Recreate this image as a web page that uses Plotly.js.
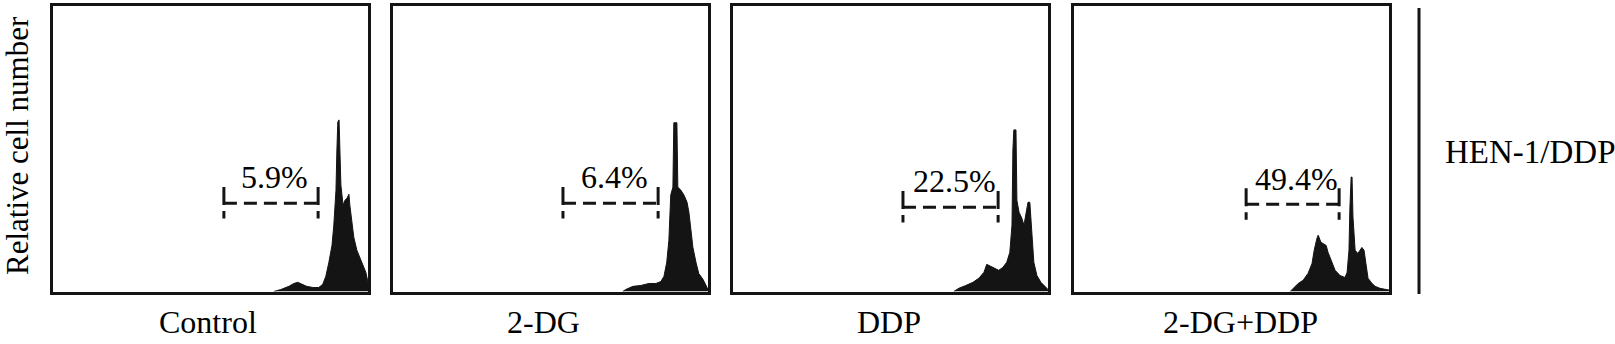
<!DOCTYPE html>
<html>
<head>
<meta charset="utf-8">
<script src="https://cdn.plot.ly/plotly-3.0.1.min.js"></script>
<style>
  html, body { margin: 0; padding: 0; background: #fff; }
  #chart { width: 1615px; height: 344px; }
</style>
</head>
<body>
<div id="chart"></div>
<script>
// ---------------- DATA ----------------
const panelLabels = ['Control', '2-DG', 'DDP', '2-DG+DDP'];
const gatePercents = ['5.9%', '6.4%', '22.5%', '49.4%'];
const gateLow = [555, 552, 552, 559];
const gateHigh = [861, 861, 861, 861];
const gateLevel = [30.9, 30.9, 29.5, 30.5];
const cellLine = 'HEN-1/DDP';
const yTitle = 'Relative cell number';

// Histograms: fluorescence channel (0-1023) vs relative cell number (0-100)
const controlCh = [717, 740, 766, 782, 795, 808, 824, 844, 863, 876, 886, 896, 906, 912, 919, 922, 925, 929, 932, 935, 942, 948, 955, 961, 964, 971, 977, 987, 997, 1007, 1016, 1023];
const controlCount = [0, 0.7, 1.8, 2.8, 3.2, 2.5, 1.8, 1.4, 1.4, 2.5, 5.3, 10.2, 16.1, 23.2, 35.4, 49.5, 59.3, 60.0, 49.5, 37.2, 30.2, 31.9, 32.6, 34.0, 30.2, 23.2, 18.9, 14.4, 11.6, 9.1, 6.7, 3.2];

const dg2Ch = [746, 756, 779, 805, 831, 854, 870, 880, 889, 896, 902, 909, 912, 922, 925, 935, 945, 955, 961, 968, 974, 984, 993, 1007, 1016, 1023];
const dg2Count = [0, 0.7, 1.8, 2.1, 2.8, 2.8, 3.5, 5.3, 10.2, 17.9, 33.7, 36.5, 59.0, 59.0, 36.5, 35.4, 33.7, 31.2, 27.7, 19.7, 15.4, 10.2, 6.3, 4.2, 2.1, 0.7];

const ddpCh = [717, 733, 756, 779, 798, 815, 824, 837, 850, 863, 876, 889, 899, 906, 909, 912, 919, 922, 929, 938, 945, 951, 958, 964, 971, 977, 987, 1000, 1013, 1023];
const ddpCount = [0, 1.1, 2.1, 3.2, 4.6, 6.7, 9.5, 8.8, 8.1, 7.4, 8.4, 10.2, 13.7, 23.2, 49.5, 56.5, 56.5, 31.9, 27.7, 25.6, 23.2, 26.7, 31.2, 31.2, 17.9, 10.2, 5.6, 3.2, 1.8, 0.7];

const comboCh = [702, 711, 728, 744, 760, 773, 780, 789, 793, 802, 809, 819, 825, 838, 848, 864, 880, 887, 893, 896, 900, 903, 906, 913, 922, 935, 942, 948, 955, 968, 978, 994, 1013, 1023];
const comboCount = [0, 1.1, 2.8, 3.9, 6.3, 9.8, 14.4, 18.6, 19.7, 17.2, 16.8, 16.1, 13.7, 10.2, 7.4, 5.6, 4.9, 6.7, 14.4, 29.1, 40.0, 40.0, 26.0, 14.4, 13.3, 15.4, 14.4, 9.8, 4.6, 2.8, 1.8, 1.1, 0.7, 0.5];

const histX = [controlCh, dg2Ch, ddpCh, comboCh];
const histY = [controlCount, dg2Count, ddpCount, comboCount];

// ---------------- LAYOUT ----------------
const W = 1615, H = 344;
const panelPx = [[53, 368], [393, 708], [733, 1048], [1074, 1389]];
const topPx = 5.5, bottomPx = 291.5;
const ink = '#141414';
const serif = 'Liberation Serif, Times New Roman, serif';

const traces = [];
const layout = {
  width: W, height: H,
  margin: {l: 0, r: 0, t: 0, b: 0},
  paper_bgcolor: '#fff', plot_bgcolor: '#fff',
  showlegend: false,
  annotations: [],
  shapes: []
};

const labelXOffsets = [-7, -23, -4, 31];   // category label horizontal offset (channels)

for (let i = 0; i < 4; i++) {
  const sfx = i === 0 ? '' : String(i + 1);
  const xa = 'x' + sfx, ya = 'y' + sfx;
  traces.push({
    type: 'scatter', mode: 'lines',
    x: histX[i], y: histY[i],
    xaxis: xa, yaxis: ya,
    fill: 'tozeroy', fillcolor: ink,
    line: {color: ink, width: 1},
    hoverinfo: 'skip'
  });
  const axCommon = {showticklabels: false, ticks: '', showgrid: false, zeroline: false,
    showline: true, mirror: true, linewidth: 3, linecolor: ink, fixedrange: true};
  layout['xaxis' + sfx] = Object.assign({}, axCommon, {
    domain: [panelPx[i][0] / W, panelPx[i][1] / W], range: [0, 1023], anchor: ya
  });
  layout['yaxis' + sfx] = Object.assign({}, axCommon, {
    domain: [(H - bottomPx) / H, (H - topPx) / H], range: [0, 100], anchor: xa
  });

  // gate bracket
  const lo = gateLow[i], hi = gateHigh[i], lv = gateLevel[i];
  const tickTop = lv + 5.6, tickBot = lv - 5.4;
  const vDash = {color: ink, width: 3, dash: '18px,6px'};
  const hDash = {color: ink, width: 3, dash: '13px,7px'};
  layout.shapes.push({type: 'line', xref: xa, yref: ya, x0: lo, x1: lo, y0: tickTop, y1: tickBot, line: vDash});
  layout.shapes.push({type: 'line', xref: xa, yref: ya, x0: hi, x1: hi, y0: tickTop, y1: tickBot, line: vDash});
  layout.shapes.push({type: 'line', xref: xa, yref: ya, x0: lo, x1: hi, y0: lv, y1: lv, line: hDash});

  // percentage label
  layout.annotations.push({
    xref: xa, yref: ya, x: (lo + hi) / 2 + 12, y: lv + 9,
    text: gatePercents[i], showarrow: false, xanchor: 'center', yanchor: 'middle',
    font: {family: serif, size: 32, color: '#000'}
  });

  // category label
  layout.annotations.push({
    xref: xa, yref: 'paper', x: 511 + labelXOffsets[i], y: (H - 322) / H,
    text: panelLabels[i], showarrow: false, xanchor: 'center', yanchor: 'middle',
    font: {family: serif, size: 32, color: '#000'}
  });
}

// y-axis title
layout.annotations.push({
  xref: 'paper', yref: 'paper', x: 17 / W, y: (H - 146) / H,
  text: yTitle, textangle: -90, showarrow: false, xanchor: 'center', yanchor: 'middle',
  font: {family: serif, size: 31, color: '#000'}
});

// cell-line label with separator line
layout.shapes.push({type: 'line', xref: 'paper', yref: 'paper',
  x0: 1419 / W, x1: 1419 / W, y0: (H - 294) / H, y1: (H - 8) / H,
  line: {color: ink, width: 3}});
layout.annotations.push({
  xref: 'paper', yref: 'paper', x: 1443 / W, y: (H - 152) / H,
  text: cellLine, showarrow: false, xanchor: 'left', yanchor: 'middle',
  font: {family: serif, size: 33, color: '#000'}
});

Plotly.newPlot('chart', traces, layout, {staticPlot: true, displayModeBar: false});
</script>
</body>
</html>
